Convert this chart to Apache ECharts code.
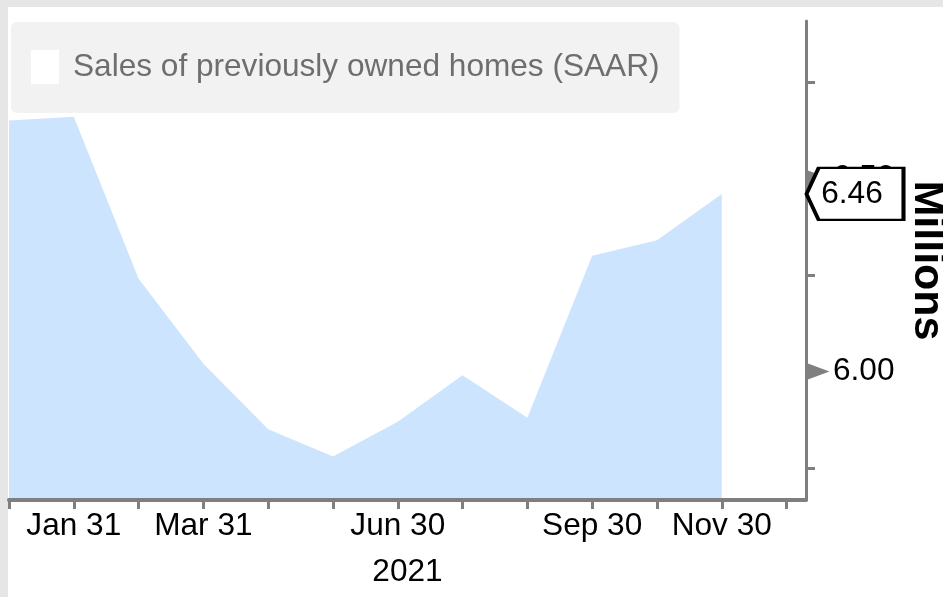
<!DOCTYPE html>
<html>
<head>
<meta charset="utf-8">
<script src="https://cdn.jsdelivr.net/npm/echarts@6/dist/echarts.min.js"></script>
<style>
    html, body { margin: 0; padding: 0; }
    #chart { width: 943px; height: 597px; }
</style>
</head>
<body>
<div id="chart"></div>
<script>
// month ends from Dec 2020 to Dec 2021 (x axis ticks)
const monthEnds = ['Dec 31', 'Jan 31', 'Feb 28', 'Mar 31', 'Apr 30', 'May 31', 'Jun 30', 'Jul 31', 'Aug 31', 'Sep 30', 'Oct 31', 'Nov 30', 'Dec 31']
// existing home sales, SAAR, millions (Dec 2020 .. Nov 2021)
const sales = [6.65, 6.66, 6.24, 6.02, 5.85, 5.78, 5.87, 5.99, 5.88, 6.30, 6.34, 6.46]
const labelledMonths = [1, 3, 6, 9, 11]
const yMinorTicks = [5.75, 6.25, 6.75]
const yLabelTicks = [6.0, 6.5]
const yearLabel = '2021'
const seriesName = 'Sales of previously owned homes (SAAR)'

const font = 'Liberation Sans'
const xMax = 12.3
const last = sales[sales.length - 1]

let myChart = echarts.init(document.getElementById('chart'))

// little arrows in front of the labelled y ticks
const arrowMarks = yLabelTicks.map(v => ({
    coord: [xMax, v],
    symbol: 'path://M0,0 L1,0.5 L0,1 Z',
    symbolSize: [23, 17],
    symbolOffset: [12, 0],
    itemStyle: { color: '#808080' },
    label: { show: false }
}))

const options = {
    backgroundColor: '#e6e6e6',
    animation: false,
    graphic: [{
        type: 'rect',
        left: 8,
        top: 7,
        z: -10,
        shape: { width: 935, height: 590 },
        style: { fill: '#fff' }
    }],
    legend: {
        left: 11,
        top: 22,
        padding: [28, 20, 29, 20],
        backgroundColor: '#f2f2f2',
        borderRadius: 6,
        itemWidth: 28,
        itemHeight: 34,
        icon: 'rect',
        data: [{ name: seriesName, itemStyle: { color: '#fff' } }],
        textStyle: {
            fontFamily: font,
            fontSize: 31.6,
            color: '#6e6e6e',
            padding: [0, 0, 0, 9]
        }
    },
    grid: {
        left: 9,
        right: 137,
        top: 21,
        bottom: 97,
        containLabel: false,
        outerBoundsMode: 'none'
    },
    xAxis: {
        type: 'value',
        min: 0,
        max: xMax,
        z: 3,
        name: yearLabel,
        nameLocation: 'middle',
        nameGap: 56,
        nameTextStyle: { fontFamily: font, fontSize: 31.6, color: '#000' },
        splitLine: { show: false },
        axisLine: { onZero: false, lineStyle: { color: '#7f7f7f', width: 4 } },
        axisTick: {
            customValues: monthEnds.map((m, i) => i),
            length: 9,
            lineStyle: { color: '#7f7f7f', width: 3 }
        },
        axisLabel: {
            customValues: labelledMonths,
            formatter: v => monthEnds[v],
            margin: 10,
            fontFamily: font,
            fontSize: 31.6,
            color: '#000'
        }
    },
    yAxis: {
        type: 'value',
        position: 'right',
        min: 5.667,
        max: 6.908,
        z: 3,
        name: 'Millions',
        nameLocation: 'middle',
        nameRotate: -90,
        nameGap: 97,
        nameTextStyle: { fontFamily: font, fontSize: 43, fontWeight: 'bold', color: '#000' },
        splitLine: { show: false },
        axisLine: { show: true, onZero: false, lineStyle: { color: '#7f7f7f', width: 3 } },
        axisTick: {
            customValues: yMinorTicks,
            length: 9,
            lineStyle: { color: '#7f7f7f', width: 3 }
        },
        axisLabel: {
            customValues: yLabelTicks,
            formatter: v => v.toFixed(2),
            margin: 27,
            fontFamily: font,
            fontSize: 31.6,
            color: '#000'
        }
    },
    series: [
        {
            name: seriesName,
            type: 'line',
            data: sales.map((v, i) => [i, v]),
            symbol: 'none',
            lineStyle: { width: 0 },
            itemStyle: { color: '#cce4fe' },
            areaStyle: { color: '#cce4fe', opacity: 1, origin: 'start' },
            markPoint: {
                animation: false,
                data: arrowMarks.concat([{
                    coord: [xMax, last],
                    value: last,
                    symbol: 'path://M0,25 L12,0 L96,0 L96,50 L12,50 Z',
                    symbolSize: [97, 52],
                    symbolOffset: [49, 0],
                    itemStyle: { color: '#fff', borderColor: '#000', borderWidth: 3 },
                    label: {
                        show: true,
                        position: 'inside',
                        offset: [-3, 0],
                        formatter: p => p.value.toFixed(2),
                        fontFamily: font,
                        fontSize: 31.6,
                        color: '#000'
                    }
                }])
            }
        }
    ]
}
myChart.setOption(options)
</script>
</body>
</html>
